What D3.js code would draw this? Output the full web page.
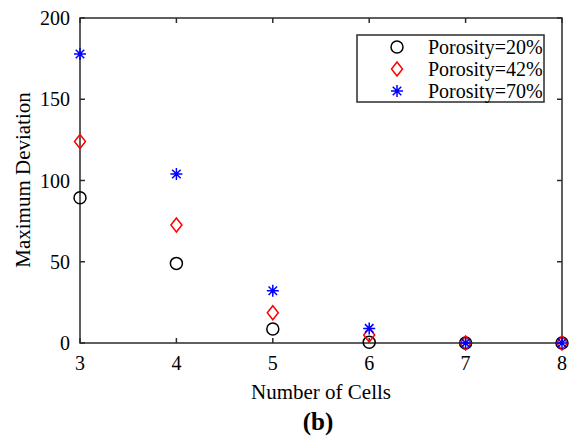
<!DOCTYPE html>
<html>
<head>
<meta charset="utf-8">
<script src="https://cdn.jsdelivr.net/npm/d3@7"></script>
<style>
  html, body { margin: 0; padding: 0; background: #fff; }
  svg { display: block; }
  text { font-family: "Liberation Serif", "Times New Roman", serif; fill: #000; }
</style>
</head>
<body>
<svg id="chart" width="583" height="437"></svg>
<script>
// Number of cells on the x axis
const cells = [3, 4, 5, 6, 7, 8];
// Maximum deviation for each porosity
const porosity20 = [89.4, 49, 8.6, 0.4, 0, 0];
const porosity42 = [124, 72.6, 18.6, 4.9, 0, 0];
const porosity70 = [177.8, 104, 32.2, 9, 0, 0];
const seriesNames = ["Porosity=20%", "Porosity=42%", "Porosity=70%"];
const xTicks = [3, 4, 5, 6, 7, 8];
const yTicks = [0, 50, 100, 150, 200];

const svg = d3.select("#chart");
const plotLeft = 80, plotRight = 562, plotTop = 18, plotBottom = 343;

const x = d3.scaleLinear().domain([3, 8]).range([plotLeft, plotRight]);
const y = d3.scaleLinear().domain([0, 200]).range([plotBottom, plotTop]);

const axisColor = "#2b2b2b";
const tickLen = 5;

// Box and inward ticks
const g = svg.append("g");
g.append("rect")
  .attr("x", plotLeft).attr("y", plotTop)
  .attr("width", plotRight - plotLeft).attr("height", plotBottom - plotTop)
  .attr("fill", "none").attr("stroke", axisColor).attr("stroke-width", 1.5);

xTicks.forEach(t => {
  g.append("line").attr("x1", x(t)).attr("x2", x(t)).attr("y1", plotBottom).attr("y2", plotBottom - tickLen)
    .attr("stroke", axisColor).attr("stroke-width", 1.5);
  g.append("line").attr("x1", x(t)).attr("x2", x(t)).attr("y1", plotTop).attr("y2", plotTop + tickLen)
    .attr("stroke", axisColor).attr("stroke-width", 1.5);
  g.append("text").attr("x", x(t)).attr("y", 370)
    .attr("text-anchor", "middle").attr("font-size", 20).text(t);
});
yTicks.forEach(t => {
  g.append("line").attr("x1", plotLeft).attr("x2", plotLeft + tickLen).attr("y1", y(t)).attr("y2", y(t))
    .attr("stroke", axisColor).attr("stroke-width", 1.5);
  g.append("line").attr("x1", plotRight).attr("x2", plotRight - tickLen).attr("y1", y(t)).attr("y2", y(t))
    .attr("stroke", axisColor).attr("stroke-width", 1.5);
  g.append("text").attr("x", 70).attr("y", y(t) + 7)
    .attr("text-anchor", "end").attr("font-size", 20).text(t);
});

// Axis titles and panel label
svg.append("text").attr("x", 321).attr("y", 399)
  .attr("text-anchor", "middle").attr("font-size", 21).text("Number of Cells");
svg.append("text").attr("transform", "translate(30,180) rotate(-90)")
  .attr("text-anchor", "middle").attr("font-size", 21).text("Maximum Deviation");
svg.append("text").attr("x", 318).attr("y", 430)
  .attr("text-anchor", "middle").attr("font-size", 25).attr("font-weight", "bold").text("(b)");

// Marker painters
function drawCircle(sel, cx, cy) {
  sel.append("circle").attr("cx", cx).attr("cy", cy).attr("r", 6)
    .attr("fill", "none").attr("stroke", "#000").attr("stroke-width", 1.5);
}
function drawDiamond(sel, cx, cy) {
  const w = 5.5, h = 7;
  sel.append("path")
    .attr("d", `M${cx},${cy - h}L${cx + w},${cy}L${cx},${cy + h}L${cx - w},${cy}Z`)
    .attr("fill", "none").attr("stroke", "#ff0000").attr("stroke-width", 1.5);
}
function drawStar(sel, cx, cy) {
  const r = 6;
  let d = "";
  [0, 45, 90, 135].forEach(a => {
    const rad = a * Math.PI / 180;
    const dx = r * Math.cos(rad), dy = r * Math.sin(rad);
    d += `M${cx - dx},${cy - dy}L${cx + dx},${cy + dy}`;
  });
  sel.append("path").attr("d", d)
    .attr("fill", "none").attr("stroke", "#0000ff").attr("stroke-width", 1.5);
}

const marks = svg.append("g");
cells.forEach((c, i) => drawCircle(marks, x(c), y(porosity20[i])));
cells.forEach((c, i) => drawDiamond(marks, x(c), y(porosity42[i])));
cells.forEach((c, i) => drawStar(marks, x(c), y(porosity70[i])));

// Legend
const legend = svg.append("g");
legend.append("rect").attr("x", 357).attr("y", 35).attr("width", 187).attr("height", 67)
  .attr("fill", "#fff").attr("stroke", axisColor).attr("stroke-width", 1.5);
const painters = [drawCircle, drawDiamond, drawStar];
seriesNames.forEach((name, i) => {
  const cy = 47 + i * 22;
  painters[i](legend, 397, cy);
  legend.append("text").attr("x", 428).attr("y", cy + 7)
    .attr("font-size", 20).text(name);
});
</script>
</body>
</html>
